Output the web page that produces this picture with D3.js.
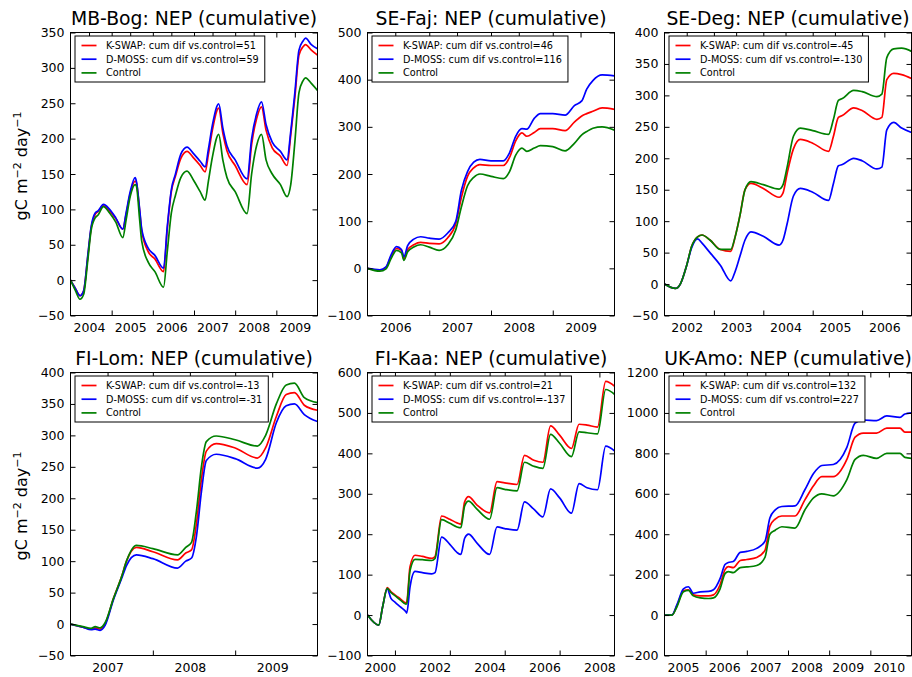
<!DOCTYPE html>
<html>
<head>
<meta charset="utf-8">
<script src="https://cdn.jsdelivr.net/npm/d3@7"></script>
<style>
body { margin: 0; background: #fff; }
text { font-family: "DejaVu Sans", sans-serif; fill: #000; }
</style>
</head>
<body>
<svg id="chart" width="912" height="677"></svg>
<script>
// ---- data (decimal years, gC m-2) ----
// MB-Bog
const bogT = [2004.0, 2004.12, 2004.23, 2004.32, 2004.42, 2004.5, 2004.6, 2004.67, 2004.8, 2004.95, 2005.1, 2005.27, 2005.35, 2005.45, 2005.57, 2005.6, 2005.68, 2005.73, 2005.89, 2006.05, 2006.26, 2006.35, 2006.45, 2006.55, 2006.68, 2006.83, 2007.0, 2007.15, 2007.27, 2007.35, 2007.45, 2007.6, 2007.7, 2007.8, 2008.0, 2008.29, 2008.4, 2008.52, 2008.64, 2008.75, 2008.9, 2009.1, 2009.26, 2009.35, 2009.45, 2009.55, 2009.65, 2009.71, 2009.85, 2010.0];
const bogK = [0, -12, -22, -15, 33, 73, 93, 97, 105, 98, 87, 72, 93, 122, 140, 138, 98, 70, 40, 30, 12, 72, 125, 147, 172, 182, 172, 162, 153, 178, 213, 243, 208, 183, 162, 135, 192, 228, 245, 212, 187, 175, 162, 205, 258, 318, 330, 333, 325, 318];
const bogD = [0, -12, -22, -15, 35, 75, 95, 98, 107, 100, 88, 72, 95, 125, 145, 140, 100, 72, 45, 35, 17, 75, 128, 150, 178, 188, 178, 168, 160, 185, 220, 249, 215, 190, 170, 143, 200, 235, 252, 220, 195, 182, 170, 210, 265, 325, 338, 342, 333, 327];
const bogC = [0, -15, -27, -20, 28, 70, 88, 92, 104, 95, 82, 60, 85, 118, 135, 133, 85, 55, 25, 12, -10, 40, 95, 120, 145, 154, 140, 125, 113, 140, 175, 206, 170, 145, 125, 94, 150, 190, 206, 170, 150, 135, 118, 135, 195, 265, 282, 286, 278, 268];

// SE-Faj
const fajT = [2006.0, 2006.2, 2006.3, 2006.38, 2006.47, 2006.55, 2006.59, 2006.65, 2006.75, 2006.86, 2007.0, 2007.16, 2007.3, 2007.43, 2007.52, 2007.62, 2007.72, 2007.82, 2008.0, 2008.2, 2008.3, 2008.4, 2008.5, 2008.58, 2008.7, 2008.8, 2009.0, 2009.2, 2009.35, 2009.47, 2009.55, 2009.65, 2009.8, 2010.0];
const fajK = [0, -4, 2, 25, 42, 38, 20, 40, 50, 55, 53, 52, 65, 95, 150, 195, 213, 220, 218, 218, 235, 270, 287, 280, 288, 296, 296, 292, 310, 323, 328, 333, 340, 337];
const fajD = [0, -3, 3, 28, 46, 40, 25, 48, 62, 67, 64, 62, 75, 100, 165, 205, 225, 231, 228, 228, 245, 280, 296, 295, 318, 328, 328, 325, 345, 355, 380, 398, 410, 408];
const fajC = [0, -6, -1, 20, 38, 33, 17, 35, 45, 50, 45, 38, 50, 82, 130, 175, 193, 200, 195, 190, 205, 240, 255, 248, 255, 260, 258, 249, 265, 283, 290, 297, 300, 293];

// SE-Deg
const degT = [2002.0, 2002.22, 2002.32, 2002.45, 2002.55, 2002.67, 2002.76, 2002.92, 2003.13, 2003.34, 2003.43, 2003.53, 2003.63, 2003.75, 2004.0, 2004.32, 2004.4, 2004.48, 2004.61, 2004.75, 2005.0, 2005.32, 2005.42, 2005.52, 2005.6, 2005.83, 2006.0, 2006.3, 2006.4, 2006.5, 2006.64, 2006.8, 2007.0];
const degK = [0, -7, 0, 30, 60, 75, 78, 70, 55, 52, 75, 110, 150, 160, 152, 138, 145, 175, 215, 230, 224, 211, 235, 265, 268, 280, 276, 262, 265, 325, 335, 333, 327];
const degD = [0, -7, 0, 30, 58, 72, 65, 50, 30, 5, 20, 45, 70, 83, 76, 62, 70, 95, 140, 152, 146, 133, 160, 188, 190, 200, 196, 183, 186, 245, 257, 248, 241];
const degC = [0, -7, 0, 30, 60, 75, 78, 70, 55, 55, 75, 110, 150, 163, 158, 151, 158, 185, 235, 248, 244, 238, 262, 292, 295, 308, 306, 298, 302, 360, 374, 375, 370];

// FI-Lom
const lomT = [2007.0, 2007.15, 2007.25, 2007.3, 2007.36, 2007.42, 2007.52, 2007.62, 2007.68, 2007.8, 2008.0, 2008.3, 2008.4, 2008.47, 2008.53, 2008.59, 2008.65, 2008.77, 2009.0, 2009.27, 2009.37, 2009.5, 2009.62, 2009.72, 2009.84, 2010.0];
const lomK = [0, -5, -8, -6, -8, 0, 40, 75, 100, 122, 115, 102, 113, 118, 160, 230, 275, 287, 280, 264, 280, 330, 365, 368, 348, 340];
const lomD = [0, -5, -9, -8, -10, -2, 38, 72, 93, 110, 104, 89, 100, 105, 140, 210, 260, 270, 263, 248, 262, 320, 347, 350, 333, 322];
const lomC = [0, -4, -7, -4, -6, 2, 40, 75, 100, 125, 120, 110, 122, 130, 180, 250, 290, 299, 293, 283, 300, 350, 380, 383, 360, 352];

// FI-Kaa
const kaaT = [2000.0, 2000.41, 2000.55, 2000.72, 2000.85, 2001.0, 2001.2, 2001.4, 2001.43, 2001.55, 2001.73, 2002.0, 2002.34, 2002.46, 2002.7, 2003.0, 2003.26, 2003.4, 2003.54, 2003.68, 2003.99, 2004.45, 2004.72, 2005.0, 2005.45, 2005.72, 2006.06, 2006.39, 2006.67, 2007.0, 2007.43, 2007.71, 2008.0, 2008.38, 2008.68, 2009.02];
const kaaK = [0, -25, 20, 68, 58, 50, 40, 30, 32, 120, 148, 145, 140, 145, 245, 237, 228, 225, 280, 293, 272, 253, 330, 327, 323, 395, 383, 378, 468, 445, 412, 472, 470, 465, 578, 565];
const kaaD = [0, -25, 20, 65, 42, 32, 20, 8, 5, 70, 108, 105, 102, 105, 193, 175, 155, 150, 190, 200, 178, 150, 218, 214, 210, 280, 262, 243, 312, 290, 252, 325, 315, 310, 418, 405];
const kaaC = [0, -25, 20, 66, 56, 48, 37, 27, 28, 110, 138, 137, 135, 140, 236, 227, 218, 216, 270, 282, 262, 237, 315, 311, 307, 378, 368, 363, 447, 425, 392, 453, 451, 448, 558, 545];

// UK-Amo
const amoT = [2005.0, 2005.18, 2005.3, 2005.46, 2005.58, 2005.7, 2005.87, 2006.07, 2006.19, 2006.35, 2006.47, 2006.55, 2006.67, 2006.84, 2007.0, 2007.24, 2007.44, 2007.56, 2007.69, 2007.85, 2008.17, 2008.41, 2008.62, 2008.82, 2009.1, 2009.43, 2009.63, 2009.83, 2010.15, 2010.4, 2010.72, 2010.84, 2011.0];
const amoK = [0, 0, 45, 120, 125, 100, 95, 95, 100, 150, 225, 240, 235, 270, 275, 285, 320, 440, 475, 490, 490, 570, 640, 685, 685, 770, 880, 900, 900, 925, 925, 905, 905];
const amoD = [0, 0, 50, 130, 140, 108, 115, 117, 125, 180, 250, 260, 265, 310, 315, 330, 365, 480, 520, 537, 540, 620, 700, 740, 745, 830, 950, 965, 962, 985, 978, 995, 1000];
const amoC = [0, 0, 40, 115, 122, 95, 85, 82, 85, 130, 205, 215, 210, 235, 238, 245, 285, 400, 420, 437, 430, 520, 580, 600, 590, 670, 770, 790, 775, 800, 800, 780, 775];

// cumulative difference vs control [K-SWAP, D-MOSS]
const bogDif = [51, 59], fajDif = [46, 116], degDif = [-45, -130];
const lomDif = [-13, -31], kaaDif = [21, -137], amoDif = [132, 227];

// axis ranges, tick marks (year starts) and year labels
const bogSpan = [2004, 2010], bogTicks = [2005, 2006, 2007, 2008, 2009], bogYears = [2004, 2005, 2006, 2007, 2008, 2009];
const fajSpan = [2006, 2010], fajTicks = [2007, 2008, 2009], fajYears = [2006, 2007, 2008, 2009];
const degSpan = [2002, 2007], degTicks = [2003, 2004, 2005, 2006], degYears = [2002, 2003, 2004, 2005, 2006];
const lomSpan = [2007, 2010], lomTicks = [2008, 2009], lomYears = [2007, 2008, 2009];
const kaaSpan = [2000, 2009], kaaTicks = [2001, 2003, 2005, 2007], kaaYears = [2000, 2002, 2004, 2006, 2008];
const amoSpan = [2005, 2011], amoTicks = [2006, 2007, 2008, 2009, 2010], amoYears = [2005, 2006, 2007, 2008, 2009, 2010];

const bogY = d3.range(-50, 351, 50), fajY = d3.range(-100, 501, 100), degY = d3.range(-50, 401, 50);
const lomY = d3.range(-50, 401, 50), kaaY = d3.range(-100, 601, 100), amoY = d3.range(-200, 1201, 200);

const sites = [
    {name: "MB-Bog", t: bogT, k: bogK, d: bogD, c: bogC, dif: bogDif, span: bogSpan, ticks: bogTicks, years: bogYears, yTicks: bogY},
    {name: "SE-Faj", t: fajT, k: fajK, d: fajD, c: fajC, dif: fajDif, span: fajSpan, ticks: fajTicks, years: fajYears, yTicks: fajY},
    {name: "SE-Deg", t: degT, k: degK, d: degD, c: degC, dif: degDif, span: degSpan, ticks: degTicks, years: degYears, yTicks: degY},
    {name: "FI-Lom", t: lomT, k: lomK, d: lomD, c: lomC, dif: lomDif, span: lomSpan, ticks: lomTicks, years: lomYears, yTicks: lomY},
    {name: "FI-Kaa", t: kaaT, k: kaaK, d: kaaD, c: kaaC, dif: kaaDif, span: kaaSpan, ticks: kaaTicks, years: kaaYears, yTicks: kaaY},
    {name: "UK-Amo", t: amoT, k: amoK, d: amoD, c: amoC, dif: amoDif, span: amoSpan, ticks: amoTicks, years: amoYears, yTicks: amoY}
];

// ---- layout ----
const svg = d3.select("#chart");
const defs = svg.append("defs");
const colLeft = [70.5, 367.5, 664.5];
const rowTop = [32.5, 372.5];
const axW = 247, axH = 283;
const labelShift = 0.45;   // year labels sit mid-year, tick marks at year starts
const series = [
    {key: "k", color: "#ff0000", label: dif => "K-SWAP: cum dif vs.control=" + dif[0]},
    {key: "d", color: "#0000ff", label: dif => "D-MOSS: cum dif vs.control=" + dif[1]},
    {key: "c", color: "#008000", label: () => "Control"}
];
const fmt = d3.format("d");

sites.forEach((s, i) => {
    const left = colLeft[i % 3];
    const top = rowTop[Math.floor(i / 3)];

    const x = d3.scaleLinear().domain(s.span).range([left, left + axW]);
    const y = d3.scaleLinear().domain(d3.extent(s.yTicks)).range([top + axH, top]);

    const clipId = "clip" + i;
    defs.append("clipPath").attr("id", clipId)
        .append("rect")
        .attr("x", left).attr("y", top)
        .attr("width", axW).attr("height", axH);

    const g = svg.append("g");

    // lines
    const line = d3.line()
        .x(d => x(d[0]))
        .y(d => y(d[1]))
        .curve(d3.curveMonotoneX);
    const plot = g.append("g").attr("clip-path", `url(#${clipId})`);
    series.forEach(sr => {
        plot.append("path")
            .datum(s.t.map((t, j) => [t, s[sr.key][j]]))
            .attr("fill", "none")
            .attr("stroke", sr.color)
            .attr("stroke-width", 1.7)
            .attr("stroke-linejoin", "round")
            .attr("d", line);
    });

    // axes (ticks pointing inward)
    const styleAxis = sel => {
        sel.attr("font-size", 12.5).attr("font-family", "DejaVu Sans, sans-serif");
        sel.select(".domain").remove();
        sel.selectAll(".tick line").attr("stroke", "#000");
    };

    g.append("g")
        .attr("transform", `translate(0,${top + axH})`)
        .call(d3.axisBottom(x).tickValues(s.ticks).tickSize(-5).tickFormat(""))
        .call(styleAxis);

    g.append("g")
        .attr("transform", `translate(0,${top + axH})`)
        .call(d3.axisBottom(x)
            .tickValues(s.years.map(v => v + labelShift))
            .tickFormat((d, j) => s.years[j])
            .tickSize(0).tickPadding(7.5))
        .call(styleAxis);

    g.append("g")
        .attr("transform", `translate(0,${top})`)
        .call(d3.axisTop(x)
            .tickValues(s.ticks.concat(s.years.map(v => v + labelShift)))
            .tickSize(-5).tickFormat(""))
        .call(styleAxis);

    g.append("g")
        .attr("transform", `translate(${left},0)`)
        .call(d3.axisLeft(y).tickValues(s.yTicks).tickFormat(fmt).tickSize(-5).tickPadding(6))
        .call(styleAxis);

    g.append("g")
        .attr("transform", `translate(${left + axW},0)`)
        .call(d3.axisRight(y).tickValues(s.yTicks).tickSize(-5).tickFormat(""))
        .call(styleAxis);

    // frame
    g.append("rect")
        .attr("x", left).attr("y", top)
        .attr("width", axW).attr("height", axH)
        .attr("fill", "none")
        .attr("stroke", "#000")
        .attr("stroke-width", 1);

    // title
    g.append("text")
        .attr("x", left + axW / 2)
        .attr("y", top - 7.5)
        .attr("text-anchor", "middle")
        .attr("font-size", 18.8)
        .text(s.name + ": NEP (cumulative)");

    // y label on the left column
    if (i % 3 === 0) {
        const yl = g.append("text")
            .attr("transform", `translate(27,${top + axH / 2 - 8}) rotate(-90)`)
            .attr("text-anchor", "middle")
            .attr("font-size", 16);
        yl.append("tspan").text("gC m");
        yl.append("tspan").attr("font-size", 11).attr("dy", -6).text("\u22122");
        yl.append("tspan").attr("dy", 6).text(" day");
        yl.append("tspan").attr("font-size", 11).attr("dy", -6).text("\u22121");
    }

    // legend
    const lg = g.append("g").attr("transform", `translate(${left + 4.5},${top + 3.5})`);
    const box = lg.append("rect")
        .attr("height", 46)
        .attr("fill", "#fff")
        .attr("stroke", "#000")
        .attr("stroke-width", 1);
    let maxLen = 0;
    series.forEach((sr, j) => {
        const yy = 9.5 + j * 13.7;
        lg.append("line")
            .attr("x1", 6.5).attr("x2", 21.5)
            .attr("y1", yy).attr("y2", yy)
            .attr("stroke", sr.color)
            .attr("stroke-width", 1.7);
        const t = lg.append("text")
            .attr("x", 31).attr("y", yy)
            .attr("dy", "0.35em")
            .attr("font-size", 9.7)
            .text(sr.label(s.dif));
        maxLen = Math.max(maxLen, t.node().getComputedTextLength());
    });
    box.attr("width", 31 + maxLen + 6);
});
</script>
</body>
</html>
